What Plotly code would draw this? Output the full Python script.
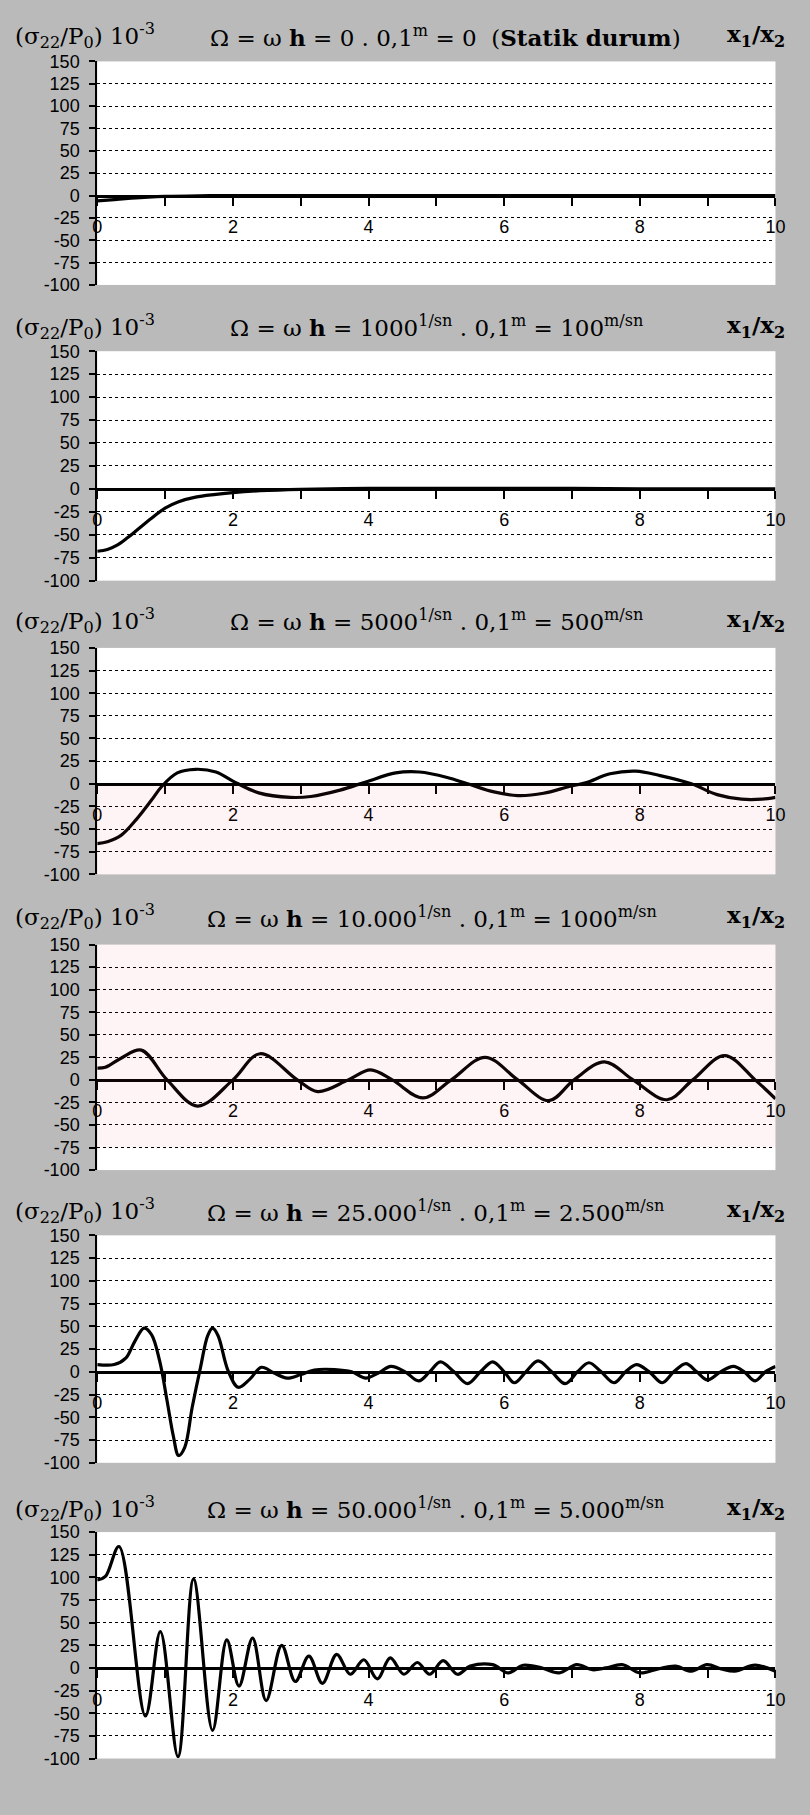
import plotly.graph_objects as go

# ---------------- data ----------------
x_tickvals = [0, 2, 4, 6, 8, 10]
x_ticktext = ['0', '2', '4', '6', '8', '10']
y_tickvals = [-100, -75, -50, -25, 0, 25, 50, 75, 100, 125, 150]
y_ticktext = ['-100', '-75', '-50', '-25', '0', '25', '50', '75', '100', '125', '150']

left_label = "(σ<sub>22</sub>/P<sub>0</sub>) 10<sup>-3</sup>"
right_label = "<b>x<sub>1</sub>/x<sub>2</sub></b>"
titles = [
    "Ω = ω <b>h</b> = 0 . 0,1<sup>m</sup> = 0  (<b>Statik durum</b>)",
    "Ω = ω <b>h</b> = 1000<sup>1/sn</sup> . 0,1<sup>m</sup> = 100<sup>m/sn</sup>",
    "Ω = ω <b>h</b> = 5000<sup>1/sn</sup> . 0,1<sup>m</sup> = 500<sup>m/sn</sup>",
    "Ω = ω <b>h</b> = 10.000<sup>1/sn</sup> . 0,1<sup>m</sup> = 1000<sup>m/sn</sup>",
    "Ω = ω <b>h</b> = 25.000<sup>1/sn</sup> . 0,1<sup>m</sup> = 2.500<sup>m/sn</sup>",
    "Ω = ω <b>h</b> = 50.000<sup>1/sn</sup> . 0,1<sup>m</sup> = 5.000<sup>m/sn</sup>",
]

# Omega = 0 (static)
x1 = [0, 0.25, 0.5, 0.75, 1.0, 1.5, 2, 3, 4, 5, 6, 7, 8, 9, 10]
y1 = [-6, -4.5, -3, -1.8, -1, -0.3, 0, 0, 0, 0, 0, 0, 0, 0, 0]

# Omega = 100 m/sn
x2 = [0, 0.15, 0.3, 0.45, 0.6, 0.8, 1.0, 1.2, 1.45, 1.75, 2.0, 2.4, 3, 4, 5, 6, 7, 8, 9, 10]
y2 = [-68, -66, -61, -53, -44, -32, -21, -14, -9, -6, -4, -2, -0.5, 0.5, 0.5, 0.5, 0.5, 0, 0, 0]

# Omega = 500 m/sn
x3 = [0, 0.15, 0.35, 0.58, 0.8, 0.95, 1.18, 1.45, 1.75, 2.0, 2.38, 2.85, 3.15, 3.58, 3.96,
      4.4, 4.75, 5.16, 5.46, 5.85, 6.2, 6.58, 6.96, 7.2, 7.56, 7.94, 8.3, 8.76, 9.14, 9.5, 9.8, 10]
y3 = [-66, -64, -57, -39, -18, -3, 12, 16, 13, 3, -10, -15, -14, -7, 2,
      12, 13, 7, 0, -9, -13, -10.5, -3, 1, 11, 14, 9, 0, -12, -17, -17, -15]

# Omega = 1000 m/sn
x4 = [0, 0.12, 0.35, 0.65, 1.03, 1.48, 2.0, 2.4, 2.95, 3.25, 3.7, 4.03, 4.35, 4.8, 5.22,
      5.72, 6.2, 6.66, 7.03, 7.48, 7.9, 8.4, 8.78, 9.25, 9.7, 10]
y4 = [13, 14, 24, 33, 0, -29, 0, 29, 0, -13, 0, 11, 0, -20, 0,
      25, 0, -23, 0, 20, 0, -22, 0, 27, 0, -21]

# Omega = 2500 m/sn
x5 = [0, 0.25, 0.42, 0.55, 0.69, 0.8, 0.92, 1.03, 1.12, 1.2, 1.29, 1.4, 1.52, 1.63, 1.7, 1.78,
      1.93, 2.08, 2.25, 2.42, 2.6, 2.8, 3.0, 3.2, 3.5, 3.75, 3.96, 4.15, 4.33, 4.54, 4.74, 4.9,
      5.06, 5.26, 5.46, 5.65, 5.83, 6.0, 6.15, 6.32, 6.5, 6.7, 6.9, 7.08, 7.25, 7.43, 7.62, 7.79,
      7.95, 8.14, 8.33, 8.5, 8.68, 8.84, 9.0, 9.19, 9.38, 9.54, 9.7, 9.85, 10]
y5 = [8, 8, 15, 33, 48, 41, 12, -32, -70, -92, -83, -39, 4, 40, 48, 40,
      1, -17, -8, 5, -1, -7, -3, 2, 2.5, 0, -7, -1, 6, 0, -10, 0,
      11, 0, -13, 0, 11, 0, -12, 0, 12, 0, -13, 0, 10, 0, -12, 0,
      8, 0, -12, 0, 9, 0, -9, 0, 6, 0, -10, 0, 6]

# Omega = 5000 m/sn
x6 = [0, 0.12, 0.32, 0.71, 0.93, 1.19, 1.42, 1.7, 1.91, 2.09, 2.29, 2.49, 2.72, 2.92, 3.12,
      3.32, 3.53, 3.73, 3.93, 4.13, 4.32, 4.52, 4.72, 4.9, 5.1, 5.31, 5.5, 5.83, 6.06, 6.28,
      6.55, 6.81, 7.07, 7.3, 7.5, 7.74, 8.0, 8.27, 8.53, 8.76, 8.99, 9.2, 9.4, 9.7, 10]
y6 = [97, 101, 134, -53, 40, -98, 98, -69, 31, -20, 33, -36, 25, -15, 13,
      -17, 15, -7, 9, -12, 11, -7, 6, -7, 8, -7, 2, 3.6, -5.5, 3,
      0, -5.5, 3.6, -2, 0, 3.6, -5.5, -1, 2, -3.6, 3.6, -1, -3.6, 3, -3.6]

series = [(x1, y1), (x2, y2), (x3, y3), (x4, y4), (x5, y5), (x6, y6)]

# ---------------- layout geometry (pixels) ----------------
W, H = 810, 1815
plot_left, plot_right = 94, 785
panels_px = [(52, 278), (345, 577), (645, 874), (945, 1173), (1239, 1469), (1539, 1768)]
title_y_px = [26, 320, 617, 917, 1214, 1515]
title_x_px = [207, 227, 227, 204, 204, 204]

tick_font = dict(family="Liberation Sans Narrow, Arial Narrow, Liberation Sans, Arial, sans-serif",
                 size=18, color="black")
title_font = dict(family="DejaVu Serif, serif", size=23, color="black")

fig = go.Figure()
layout = {}
annotations = []
for i, ((top, bot), (xs, ys)) in enumerate(zip(panels_px, series)):
    n = i + 1
    sfx = "" if n == 1 else str(n)
    xa, ya = "x" + sfx, "y" + sfx
    fig.add_trace(go.Scatter(x=xs, y=ys, mode="lines",
                             line=dict(color="black", width=3.2, shape="spline", smoothing=1.0),
                             xaxis=xa, yaxis=ya, showlegend=False, hoverinfo="skip"))
    zero_px = top + (150 / 250) * (bot - top)
    layout["xaxis" + sfx] = dict(
        domain=[plot_left / W, plot_right / W], range=[0, 10], anchor="free",
        position=1 - zero_px / H, showline=True, linecolor="black", linewidth=3,
        ticks="outside", ticklen=8, tickwidth=2, tickcolor="black",
        tickvals=x_tickvals, ticktext=x_ticktext, tickfont=tick_font,
        minor=dict(dtick=1, tick0=0, ticks="outside", ticklen=8, tickwidth=2,
                   tickcolor="black", showgrid=False),
        ticklabelstandoff=6, showgrid=False, zeroline=False, fixedrange=True)
    layout["yaxis" + sfx] = dict(
        domain=[1 - bot / H, 1 - top / H], range=[-100, 150], anchor=xa,
        showline=True, linecolor="black", linewidth=2,
        ticks="outside", ticklen=6, tickwidth=1.5, tickcolor="black",
        tickvals=y_tickvals, ticktext=y_ticktext, tickfont=tick_font,
        ticklabelstandoff=6,
        showgrid=True, gridcolor="black", gridwidth=1.3, griddash="3px,3px",
        zeroline=False, fixedrange=True)
    ty = 1 - title_y_px[i] / H
    annotations.append(dict(text=left_label, x=8 / W, y=ty, xref="paper", yref="paper",
                            xanchor="left", yanchor="middle", showarrow=False, font=title_font))
    annotations.append(dict(text=titles[i], x=title_x_px[i] / W, y=ty, xref="paper", yref="paper",
                            xanchor="left", yanchor="middle", showarrow=False, font=title_font))
    annotations.append(dict(text=right_label, x=797 / W, y=ty, xref="paper", yref="paper",
                            xanchor="right", yanchor="middle", showarrow=False, font=title_font))

# faint pink tint of the scanned page's watermark inside panels 3 and 4 (white areas only)
tint = "rgba(230,60,80,0.06)"
shapes = [
    dict(type="rect", xref="paper", yref="paper", x0=plot_left / W, x1=plot_right / W,
         y0=1 - 874 / H, y1=1 - 784 / H, layer="above", line=dict(width=0), fillcolor=tint),
    dict(type="rect", xref="paper", yref="paper", x0=plot_left / W, x1=plot_right / W,
         y0=1 - 1150 / H, y1=1 - 945 / H, layer="above", line=dict(width=0), fillcolor=tint),
]

fig.update_layout(width=W, height=H, margin=dict(l=0, r=0, t=0, b=0),
                  paper_bgcolor="#bababa", plot_bgcolor="white",
                  annotations=annotations, shapes=shapes, **layout)

fig.write_html("out.html")
